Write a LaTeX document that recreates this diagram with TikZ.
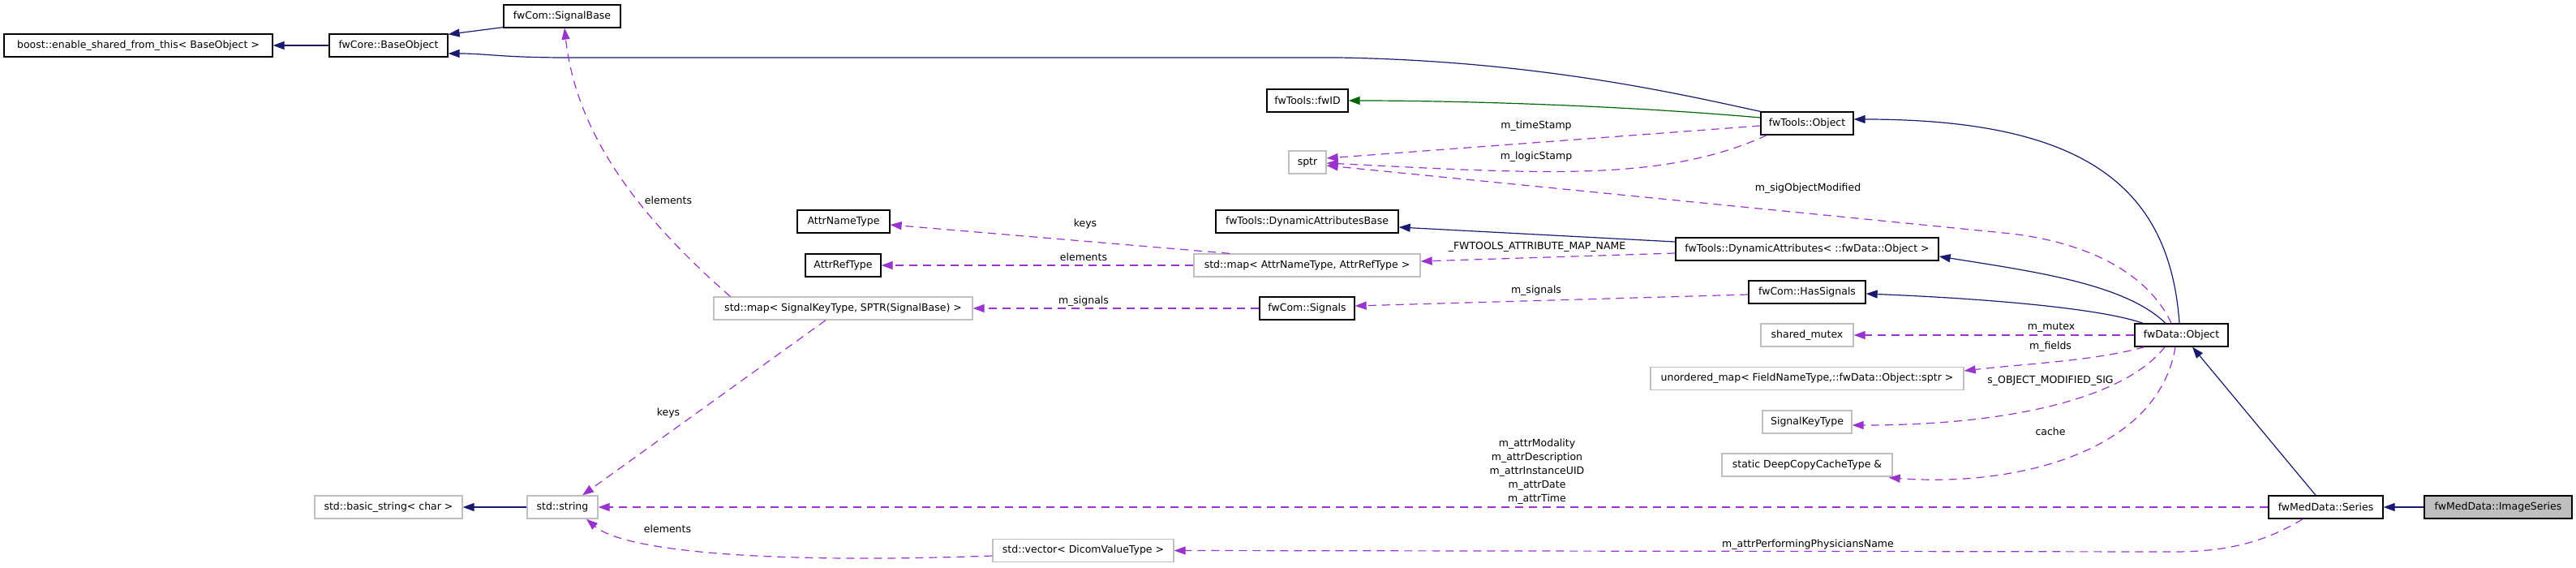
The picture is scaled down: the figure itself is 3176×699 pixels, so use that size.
\documentclass[tikz,border=0pt]{standalone}
\usepackage{fontspec}
\setmainfont{DejaVu Sans}
\usetikzlibrary{arrows.meta,calc}
\definecolor{inhblue}{RGB}{25,25,112}
\definecolor{protgreen}{RGB}{0,100,0}
\definecolor{usepurple}{RGB}{154,50,205}
\definecolor{undocgray}{RGB}{191,191,191}
\definecolor{selgray}{RGB}{191,191,191}
\newcommand\dfont{\fontsize{12.5pt}{17pt}\selectfont}
\tikzset{
  docbox/.style={draw=black, line width=1.3pt, fill=white, inner sep=0pt, minimum height=28pt, font=\dfont, text=black},
  undocbox/.style={docbox, draw=undocgray},
  selbox/.style={docbox, fill=selgray},
  lbl/.style={font=\dfont, inner sep=0pt, text=black, align=center},
  tip/.style={-{Triangle[length=14pt,width=10pt]}},
  inh/.style={tip, draw=inhblue, line width=1.2pt},
  prot/.style={tip, draw=protgreen, line width=1.2pt},
  usedby/.style={tip, draw=usepurple, line width=1.2pt, dash pattern=on 10pt off 7pt}
}
\begin{document}
\begin{tikzpicture}[x=1pt,y=-1pt]
\useasboundingbox (0,0) rectangle (3176,699);
% nodes
\node[docbox, minimum width=331pt] (boost) at (170.5,56) {boost::enable\_shared\_from\_this< BaseObject >};
\node[docbox, minimum width=146pt] (bobj) at (479,56) {fwCore::BaseObject};
\node[docbox, minimum width=144pt] (sigbase) at (693,20) {fwCom::SignalBase};
\node[docbox, minimum width=100pt] (fwid) at (1612,124) {fwTools::fwID};
\node[docbox, minimum width=114pt] (tobj) at (2228,152) {fwTools::Object};
\node[undocbox, minimum width=46pt] (sptr) at (1612,200) {sptr};
\node[docbox, minimum width=114pt] (attrN) at (1040,273) {AttrNameType};
\node[docbox, minimum width=93pt] (attrR) at (1039.5,327) {AttrRefType};
\node[docbox, minimum width=225pt] (dab) at (1611.5,273) {fwTools::DynamicAttributesBase};
\node[undocbox, minimum width=279pt] (mapA) at (1611.5,327) {std::map< AttrNameType, AttrRefType >};
\node[docbox, minimum width=324pt] (da) at (2228,307) {fwTools::DynamicAttributes< ::fwData::Object >};
\node[undocbox, minimum width=319pt] (mapS) at (1039.5,380) {std::map< SignalKeyType, SPTR(SignalBase) >};
\node[docbox, minimum width=117pt] (sig) at (1611.5,380) {fwCom::Signals};
\node[docbox, minimum width=144pt] (hs) at (2228,360) {fwCom::HasSignals};
\node[undocbox, minimum width=114pt] (smx) at (2228,413) {shared\_mutex};
\node[docbox, minimum width=115pt] (fwd) at (2689.5,413) {fwData::Object};
\node[undocbox, minimum width=386pt] (umap) at (2228,466.5) {unordered\_map< FieldNameType,::fwData::Object::sptr >};
\node[undocbox, minimum width=110pt] (skt) at (2228,520) {SignalKeyType};
\node[undocbox, minimum width=210pt] (dcc) at (2228,573) {static DeepCopyCacheType \&};
\node[undocbox, minimum width=182pt] (bstr) at (479,625) {std::basic\_string< char >};
\node[undocbox, minimum width=87pt] (str) at (693.5,625) {std::string};
\node[undocbox, minimum width=223pt] (vec) at (1335.5,678.5) {std::vector< DicomValueType >};
\node[docbox, minimum width=141pt] (ser) at (2867.5,625) {fwMedData::Series};
\node[selbox, minimum width=182pt] (img) at (3080,625) {fwMedData::ImageSeries};
% inheritance edges
\draw[inh] (bobj.west) -- (boost.east);
\draw[inh] ($(sigbase.south west)+(0,-1)$) -- ($(bobj.north east)+(0,1)$);
\draw[inh] (tobj.north west) .. controls (2080,118) and (1900,75) .. (1650,71) -- (700,71) .. controls (620,71) and (600,66) .. ($(bobj.east)+(0,10)$);
\draw[prot] ($(tobj.west)+(0,-7)$) .. controls (2000,130) and (1800,124) .. (fwid.east);
\draw[inh] ($(da.west)+(0,-9)$) -- ($(dab.east)+(0,7)$);
\draw[inh] ($(fwd.north)+(-2.5,0)$) .. controls (2675,230) and (2570,147) .. ($(tobj.east)+(0,-5)$);
\draw[inh] ($(fwd.north)+(-19.5,0)$) .. controls (2620,350) and (2510,335) .. ($(da.east)+(0,9)$);
\draw[inh] ($(fwd.north)+(-47.5,0)$) .. controls (2590,380) and (2450,368) .. ($(hs.east)+(0,2)$);
\draw[inh] (str.west) -- (bstr.east);
\draw[inh] ($(ser.north)+(-12.5,0)$) -- ($(fwd.south)+(13.5,0)$);
\draw[inh] (img.west) -- (ser.east);
% usage edges
\draw[usedby] ($(tobj.west)+(0,3)$) -- ($(sptr.east)+(0,-5)$);
\draw[usedby] ($(tobj.south west)+(8,0)$) .. controls (2050,225) and (1900,214) .. ($(sptr.east)+(0,1)$);
\draw[usedby] ($(fwd.north)+(-12.5,0)$) .. controls (2650,340) and (2580,300) .. (2480,288) -- ($(sptr.east)+(0,4)$);
\draw[usedby] ($(da.west)+(0,5)$) -- ($(mapA.east)+(0,-5)$);
\draw[usedby] ($(mapA.north)+(-95.5,0)$) -- ($(attrN.east)+(0,4)$);
\draw[usedby] (mapA.west) -- (attrR.east);
\draw[usedby] (sig.west) -- (mapS.east);
\draw[usedby] ($(hs.west)+(0,3)$) -- ($(sig.east)+(0,-3)$);
\draw[usedby] ($(mapS.north west)+(21,0)$) .. controls (780,260) and (710,160) .. ($(sigbase.south)+(3,0)$);
\draw[usedby] ($(mapS.south)+(-21.5,0)$) -- ($(str.north)+(24.5,0)$);
\draw[usedby] (ser.west) -- (str.east);
\draw[usedby] ($(ser.south)+(-28.5,0)$) .. controls (2790,670) and (2740,680) .. (2680,680) -- (vec.east);
\draw[usedby] ($(vec.west)+(0,6.5)$) .. controls (950,695) and (770,680) .. ($(str.south)+(29.5,0)$);
\draw[usedby] (fwd.west) -- (smx.east);
\draw[usedby] ($(fwd.south)+(-45.5,0)$) .. controls (2580,445) and (2500,448) .. ($(umap.east)+(0,-9.5)$);
\draw[usedby] ($(fwd.south)+(-20.5,0)$) .. controls (2620,490) and (2480,524) .. ($(skt.east)+(0,4)$);
\draw[usedby] ($(fwd.south)+(-7.5,0)$) .. controls (2660,560) and (2480,600) .. ($(dcc.south east)+(-5,1)$);
% labels
\node[lbl] (l1) at (1894,155) {m\_timeStamp};
\node[lbl] (l2) at (1894,193) {m\_logicStamp};
\node[lbl] (l3) at (2229,232) {m\_sigObjectModified};
\node[lbl] (l4) at (1895,304) {\_FWTOOLS\_ATTRIBUTE\_MAP\_NAME};
\node[lbl] (l5) at (1338,276) {keys};
\node[lbl] (l6) at (1336,317) {elements};
\node[lbl] (l7) at (1336,371) {m\_signals};
\node[lbl] (l8) at (1894,358) {m\_signals};
\node[lbl] (l9) at (824,247) {elements};
\node[lbl] (l10) at (824,509) {keys};
\node[lbl] (l11) at (1895,581) {m\_attrModality\\m\_attrDescription\\m\_attrInstanceUID\\m\_attrDate\\m\_attrTime};
\node[lbl] (l12) at (2229,671) {m\_attrPerformingPhysiciansName};
\node[lbl] (l13) at (823,652) {elements};
\node[lbl] (l14) at (2529,404) {m\_mutex};
\node[lbl] (l15) at (2528,427) {m\_fields};
\node[lbl] (l16) at (2528,469) {s\_OBJECT\_MODIFIED\_SIG};
\node[lbl] (l17) at (2528,532) {cache};
\end{tikzpicture}
\end{document}
